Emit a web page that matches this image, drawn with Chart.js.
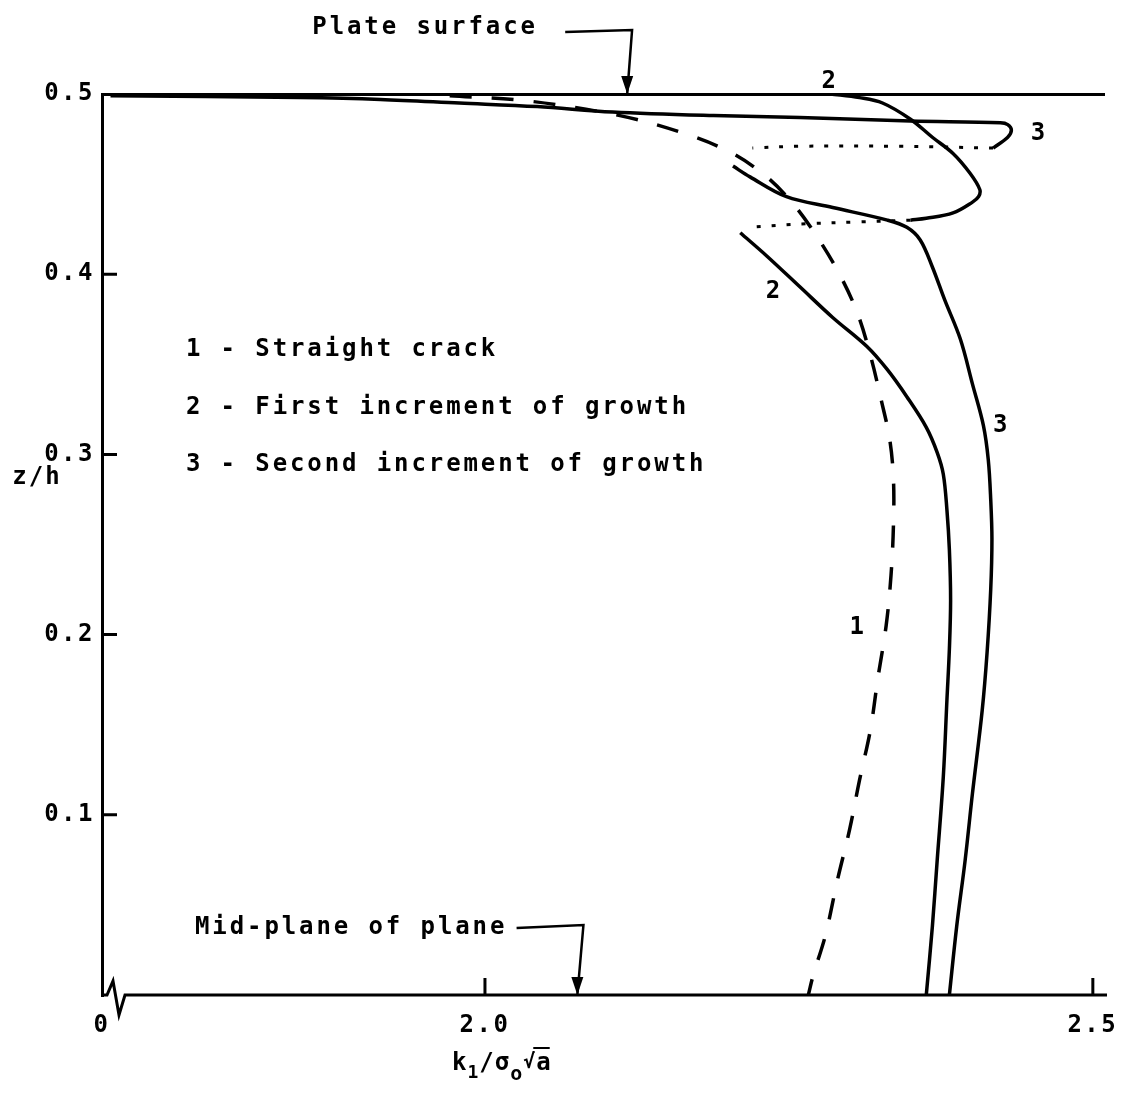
<!DOCTYPE html>
<html>
<head>
<meta charset="utf-8">
<script src="https://cdn.jsdelivr.net/npm/chart.js@4.4.1/dist/chart.umd.min.js"></script>
<style>
  html, body { margin: 0; padding: 0; background: #fff; }
  #wrap { width: 1122px; height: 1093px; }
</style>
</head>
<body>
<div id="wrap"><canvas id="kChart"></canvas></div>
<script>
// axis setup (x axis is broken: left end is labelled 0)
const xMin = 1.685;
const xMax = 2.51;
const xTickValues = [2.0, 2.5];
const yTickValues = [0.1, 0.2, 0.3, 0.4, 0.5];

// curve 1 - straight crack, [k1/sigma0*sqrt(a), z/h]
const straightCrack = [
    [1.971, 0.499], [2.037, 0.496], [2.111, 0.488], [2.160, 0.479], [2.201, 0.468],
    [2.230, 0.455], [2.251, 0.441], [2.269, 0.425], [2.290, 0.402], [2.306, 0.379],
    [2.317, 0.355], [2.326, 0.330], [2.333, 0.308], [2.336, 0.286], [2.336, 0.261],
    [2.334, 0.233], [2.330, 0.205], [2.323, 0.175], [2.317, 0.147], [2.308, 0.119],
    [2.300, 0.092], [2.290, 0.064], [2.280, 0.033], [2.270, 0.011], [2.266, 0],
];

// curve 2 - first increment of growth (near surface, jump, interior)
const firstSurface = [
    [2.284, 0.500], [2.308, 0.498], [2.327, 0.495], [2.350, 0.486], [2.368, 0.476],
    [2.385, 0.467], [2.399, 0.456], [2.407, 0.447], [2.406, 0.443], [2.401, 0.440],
    [2.385, 0.434], [2.363, 0.431], [2.350, 0.430],
];
const firstJump = [[2.350, 0.430], [2.308, 0.429], [2.265, 0.428], [2.215, 0.426]];
const firstInterior = [
    [2.210, 0.423], [2.232, 0.410], [2.259, 0.393], [2.286, 0.376], [2.314, 0.360],
    [2.331, 0.347], [2.347, 0.332], [2.363, 0.315], [2.372, 0.301], [2.377, 0.289],
    [2.380, 0.269], [2.382, 0.247], [2.383, 0.219], [2.382, 0.192], [2.380, 0.164],
    [2.377, 0.121], [2.372, 0.075], [2.368, 0.038], [2.363, 0],
];

// curve 3 - second increment of growth
const secondSurface = [
    [1.692, 0.499], [1.848, 0.498], [1.914, 0.497], [1.979, 0.495], [2.043, 0.493],
    [2.105, 0.490], [2.188, 0.488], [2.259, 0.487], [2.350, 0.485], [2.424, 0.484],
    [2.430, 0.483], [2.433, 0.480], [2.430, 0.476], [2.418, 0.470],
];
const secondJump = [[2.418, 0.470], [2.341, 0.471], [2.259, 0.471], [2.220, 0.470]];
const secondInterior = [
    [2.204, 0.460], [2.218, 0.454], [2.248, 0.443], [2.286, 0.437], [2.331, 0.430],
    [2.347, 0.426], [2.358, 0.419], [2.368, 0.404], [2.378, 0.386], [2.391, 0.364],
    [2.401, 0.339], [2.410, 0.316], [2.414, 0.297], [2.416, 0.275], [2.417, 0.253],
    [2.416, 0.225], [2.413, 0.190], [2.409, 0.158], [2.401, 0.112], [2.395, 0.075],
    [2.388, 0.038], [2.382, 0],
];

const legendLines = [
    "1 - Straight crack",
    "2 - First increment of growth",
    "3 - Second increment of growth",
];

const MONO = '"DejaVu Sans Mono", "Liberation Mono", monospace';

function pts(arr) {
    return arr.map(([k, z]) => ({ x: k, y: z }));
}

function curve(data, kind) {
    const ds = {
        data: pts(data),
        showLine: true,
        borderColor: "#000",
        borderWidth: 3.5,
        pointRadius: 0,
        tension: 0.35,
        fill: false,
    };
    if (kind === "dashed") ds.borderDash = [22, 20];
    if (kind === "dotted") {
        ds.borderDash = [4, 11];
        ds.borderWidth = 3;
    }
    return ds;
}

// labels, arrows, inward ticks and axis break
const decor = {
    id: "decor",
    beforeDraw(chart) {
        chart.ctx.letterSpacing = "2.5px";
    },
    afterDraw(chart) {
        const ctx = chart.ctx;
        const a = chart.chartArea;
        const xs = chart.scales.x;
        const ys = chart.scales.y;
        const px = (k) => xs.getPixelForValue(k);
        const py = (z) => ys.getPixelForValue(z);

        ctx.save();
        ctx.strokeStyle = "#000";
        ctx.fillStyle = "#000";
        ctx.lineWidth = 3;

        // inward tick marks
        ctx.beginPath();
        yTickValues.forEach((v) => {
            if (v >= 0.5) return;
            ctx.moveTo(a.left, py(v));
            ctx.lineTo(a.left + 15, py(v));
        });
        xTickValues.forEach((v) => {
            ctx.moveTo(px(v), a.bottom);
            ctx.lineTo(px(v), a.bottom - 17);
        });
        ctx.stroke();

        // x axis with break mark near the origin
        ctx.beginPath();
        ctx.moveTo(a.left - 1, a.bottom);
        ctx.lineTo(a.left + 5, a.bottom);
        ctx.lineTo(a.left + 11, a.bottom - 14);
        ctx.lineTo(a.left + 17, a.bottom + 20);
        ctx.lineTo(a.left + 23, a.bottom);
        ctx.lineTo(a.right + 2, a.bottom);
        ctx.stroke();

        ctx.letterSpacing = "2.9px";
        ctx.font = "bold 24px " + MONO;
        ctx.textBaseline = "middle";
        ctx.textAlign = "left";

        // legend block
        const legendZ = [0.358, 0.326, 0.294];
        legendLines.forEach((t, i) => ctx.fillText(t, px(1.754), py(legendZ[i])));

        // curve numbers
        ctx.textAlign = "center";
        [["2", 2.284, 0.507], ["2", 2.238, 0.390], ["3", 2.456, 0.478],
         ["3", 2.425, 0.316], ["1", 2.307, 0.204]].forEach(([t, k, z]) => {
            ctx.fillText(t, px(k), py(z));
        });

        // annotations with arrows
        ctx.textAlign = "left";
        ctx.fillText("Plate surface", px(1.858), py(0.537));
        ctx.fillText("Mid-plane of plane", px(1.7615), py(0.0372));

        function arrow(points) {
            ctx.lineWidth = 2.5;
            ctx.beginPath();
            points.forEach(([k, z], i) => {
                if (i === 0) ctx.moveTo(px(k), py(z));
                else ctx.lineTo(px(k), py(z));
            });
            ctx.stroke();
            const [tk, tz] = points[points.length - 1];
            const tx = px(tk), ty = py(tz);
            ctx.beginPath();
            ctx.moveTo(tx, ty);
            ctx.lineTo(tx - 6, ty - 18);
            ctx.lineTo(tx + 6, ty - 18);
            ctx.closePath();
            ctx.fill();
        }
        arrow([[2.066, 0.5344], [2.121, 0.5355], [2.117, 0.5]]);
        arrow([[2.026, 0.0372], [2.081, 0.0388], [2.076, 0]]);

        // axis titles
        ctx.letterSpacing = "2px";
        ctx.textAlign = "center";
        ctx.fillText("z/h", 37, py(0.287));

        // k1 / sigma0 sqrt(a) with subscripts
        ctx.textAlign = "left";
        ctx.textBaseline = "alphabetic";
        let cx = 452;
        const base = 1070;
        const parts = [
            ["k", 24, 0], ["1", 18, 8], ["/", 24, 0], ["\u03c3", 24, 0],
            ["o", 20, 10], ["\u221a", 20, -2], ["a", 24, 0],
        ];
        let aStart = 0;
        parts.forEach(([t, size, dy]) => {
            ctx.font = "bold " + size + "px " + MONO;
            if (t === "a") aStart = cx;
            ctx.fillText(t, cx, base + dy);
            cx += ctx.measureText(t).width - 1;
        });
        ctx.lineWidth = 2;
        ctx.beginPath();
        ctx.moveTo(aStart - 3, base - 22);
        ctx.lineTo(cx - 2, base - 22);
        ctx.stroke();

        ctx.restore();
        ctx.letterSpacing = "0px";
    },
};

const kCtx = document.getElementById("kChart").getContext("2d");
const kChart = new Chart(kCtx, {
    type: "scatter",
    data: {
        datasets: [
            curve(straightCrack, "dashed"),
            curve(firstSurface, "solid"),
            curve(firstJump, "dotted"),
            curve(firstInterior, "solid"),
            curve(secondSurface, "solid"),
            curve(secondJump, "dotted"),
            curve(secondInterior, "solid"),
        ],
    },
    options: {
        responsive: true,
        maintainAspectRatio: false,
        animation: false,
        layout: { padding: { top: 94, right: 17, left: 0, bottom: 0 } },
        plugins: {
            legend: { display: false },
            tooltip: { enabled: false },
        },
        scales: {
            x: {
                type: "linear",
                min: xMin,
                max: xMax,
                afterBuildTicks: (s) => {
                    s.ticks = [{ value: xMin }].concat(xTickValues.map((v) => ({ value: v })));
                },
                afterFit: (s) => {
                    s.height = 98;
                    s.paddingLeft = 0;
                    s.paddingRight = 0;
                },
                grid: { display: false, drawTicks: false },
                border: { display: false },
                ticks: {
                    padding: 16,
                    color: "#000",
                    maxRotation: 0,
                    font: { family: MONO, size: 24, weight: "bold" },
                    callback: (v) => (v === xMin ? "0" : v.toFixed(1)),
                },
            },
            y: {
                type: "linear",
                min: 0,
                max: 0.5,
                afterBuildTicks: (s) => {
                    s.ticks = yTickValues.map((v) => ({ value: v }));
                },
                afterFit: (s) => {
                    s.width = 102;
                    s.paddingTop = 0;
                    s.paddingBottom = 0;
                },
                grid: {
                    drawTicks: false,
                    lineWidth: 3,
                    color: (c) => (c.tick && c.tick.value === 0.5 ? "#000" : "rgba(0,0,0,0)"),
                },
                border: { display: true, color: "#000", width: 3 },
                ticks: {
                    padding: 7,
                    color: "#000",
                    font: { family: MONO, size: 24, weight: "bold" },
                    callback: (v) => v.toFixed(1),
                },
            },
        },
    },
    plugins: [decor],
});
</script>
</body>
</html>
